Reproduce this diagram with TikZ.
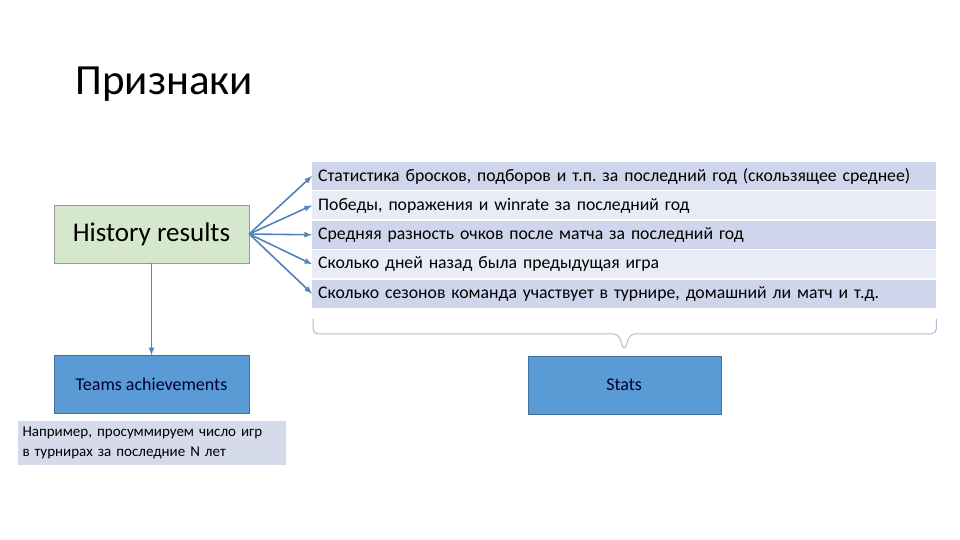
\documentclass[tikz,border=0pt]{standalone}
\usepackage{fontspec}
\setmainfont{Carlito}
\definecolor{rowdark}{RGB}{207,213,234}
\definecolor{rowlight}{RGB}{233,235,245}
\definecolor{histgreen}{RGB}{213,231,204}
\definecolor{boxblue}{RGB}{91,155,213}
\definecolor{boxedge}{RGB}{65,113,156}
\definecolor{arrowblue}{RGB}{84,130,184}
\definecolor{bracegray}{RGB}{172,188,212}
\definecolor{notefill}{RGB}{214,219,236}
\usetikzlibrary{shapes,arrows,positioning,calc,fit,backgrounds}
\frenchspacing

\begin{document}
\begin{tikzpicture}[x=1pt,y=-1pt,
    rowbox/.style={anchor=west, minimum height=28pt, text width=612pt, inner sep=6pt, align=left, font=\fontsize{17.7}{20}\selectfont},
    bluebox/.style={fill=boxblue, draw=boxedge, minimum width=193pt, minimum height=58pt, text=black!80!blue},
    fanarrow/.style={-latex, draw=arrowblue, line width=1.6pt}]
    \useasboundingbox (0,0) rectangle (960,540);

    \node[anchor=base west, font=\fontsize{43}{46}\selectfont] (title) at (72,95) {Признаки};

    % feature list
    \node[rowbox, fill=rowdark] (row1) at (312,176) {Статистика бросков, подборов и т.п. за последний год (скользящее среднее)};
    \node[rowbox, fill=rowlight, below=1pt of row1] (row2) {Победы, поражения и winrate за последний год};
    \node[rowbox, fill=rowdark, below=1pt of row2] (row3) {Средняя разность очков после матча за последний год};
    \node[rowbox, fill=rowlight, below=1pt of row3] (row4) {Сколько дней назад была предыдущая игра};
    \node[rowbox, fill=rowdark, below=1pt of row4] (row5) {Сколько сезонов команда участвует в турнире, домашний ли матч и т.д.};

    \node[fill=histgreen, draw=black!40, minimum width=195pt, minimum height=58pt, font=\fontsize{27}{30}\selectfont] (history) at (151.5,234) {History results};
    \foreach \i in {1,...,5}
        \draw[fanarrow] (history.east) -- (row\i.west);

    \node[bluebox, minimum width=195pt, below=92pt of history, font=\fontsize{18}{20}\selectfont] (teams) {Teams achievements};
    \draw[fanarrow] (history) -- (teams);
    \node[fill=notefill, text width=258pt, inner xsep=5pt, inner ysep=6pt, align=left, below=7pt of teams, font=\fontsize{15}{20}\selectfont] (note) {Например, просуммируем число игр\\в турнирах за последние N лет};

    % brace and stats
    \coordinate (braceL) at ($(row5.south west)+(1,11)$);
    \coordinate (braceR) at ($(row5.south east)+(0,11)$);
    \coordinate (bracetip) at ($(row5.south)+(0,43)$);
    \draw[draw=bracegray, line width=1pt, rounded corners=5pt]
        (braceL) |- ($(bracetip)+(-6,-17)$) -- (bracetip) -- ($(bracetip)+(6,-17)$) -| (braceR);
    \node[bluebox, below=5pt of bracetip, font=\fontsize{18}{20}\selectfont] (stats) {Stats};
\end{tikzpicture}
\end{document}
